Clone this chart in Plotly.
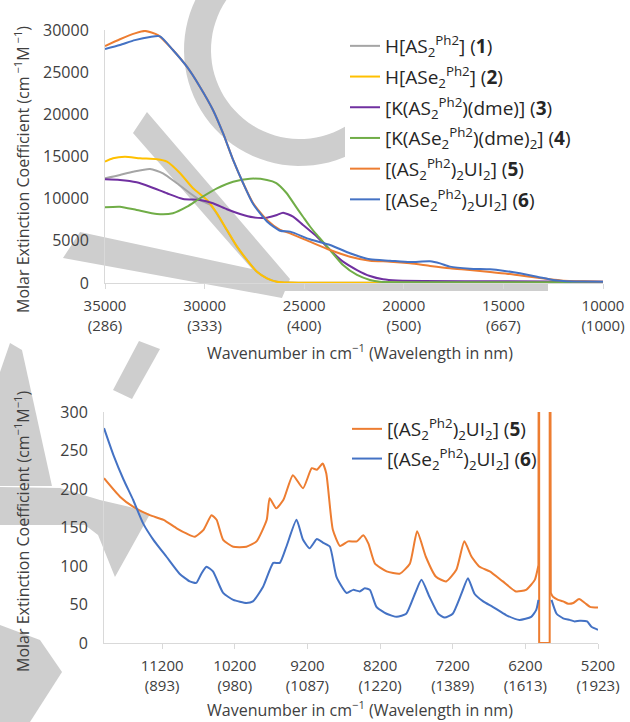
import numpy as np
import plotly.graph_objects as go

W, H = 630, 722

# ---------------- data: top panel (UV-vis-NIR) ----------------
top_ticks = [35000, 30000, 25000, 20000, 15000, 10000]
top_tick_wn = ["35000", "30000", "25000", "20000", "15000", "10000"]
top_tick_nm = ["(286)", "(333)", "(400)", "(500)", "(667)", "(1000)"]
top_yticks = [0, 5000, 10000, 15000, 20000, 25000, 30000]

c1_x = [35000, 34250, 33590, 32740, 32090, 31390, 30730, 30230, 29730, 29380, 28880, 28370, 27870, 27370, 26870, 26370, 25800, 20000, 15000, 10000]
c1_y = [12410, 12810, 13200, 13520, 13010, 11820, 10640, 9840, 9300, 8200, 6250, 4280, 2700, 1320, 550, 150, 50, 50, 50, 50]

c2_x = [35000, 34600, 34000, 33240, 32390, 31890, 31230, 30580, 29880, 29380, 28880, 28370, 27870, 27370, 26870, 26370, 25800, 20000, 15000, 10000]
c2_y = [14390, 14790, 14980, 14790, 14670, 14390, 13010, 11230, 9840, 8270, 6290, 4310, 2730, 1340, 560, 150, 50, 50, 50, 50]

c3_x = [35000, 34250, 33410, 32740, 31890, 31080, 30230, 29580, 28880, 28220, 27570, 26870, 26370, 26060, 25560, 25060, 24360, 23700, 23050, 22350, 21700, 21040, 20340, 15000, 10000]
c3_y = [12300, 12220, 11940, 11420, 10640, 9960, 9840, 9450, 8740, 8180, 7790, 7750, 8060, 8340, 7860, 6880, 5490, 3910, 2530, 1540, 830, 440, 300, 200, 150]

c4_x = [35000, 34250, 33410, 32390, 31590, 30880, 30230, 29380, 28570, 27720, 26870, 26400, 25900, 25400, 25060, 24710, 24360, 23700, 23050, 22350, 21700, 21200, 20000, 15000, 10000]
c4_y = [8980, 9050, 8660, 8180, 8270, 9050, 10050, 11230, 12010, 12370, 12220, 11850, 10700, 9000, 7860, 6700, 5690, 3910, 2130, 950, 360, 150, 100, 100, 100]

c5_x = [35000, 34250, 33500, 32990, 32340, 31590, 30880, 30230, 29580, 29080, 28570, 28070, 27570, 26870, 26210, 25710, 24710, 23700, 22700, 21700, 20690, 19690, 18680, 17680, 16680, 15670, 14670, 13660, 12660, 12000, 11000, 10000]
c5_y = [28100, 28900, 29600, 29890, 29400, 27630, 25620, 23250, 20520, 17790, 14590, 11860, 9490, 7470, 6290, 5890, 4900, 3910, 3120, 2650, 2530, 2330, 2020, 1740, 1540, 1300, 1070, 750, 440, 280, 200, 150]

c6_x = [35000, 34250, 33500, 32740, 32240, 31590, 30880, 30230, 29580, 29080, 28570, 28070, 27570, 26870, 26210, 25710, 24710, 23700, 22700, 21700, 20690, 19690, 18680, 18180, 17680, 16680, 15670, 15020, 14170, 13310, 12510, 12000, 11000, 10000]
c6_y = [27750, 28230, 28800, 29180, 29250, 27630, 25620, 23250, 20520, 17790, 14590, 11860, 9400, 7300, 6200, 6090, 5180, 4510, 3520, 2810, 2650, 2490, 2570, 2330, 1940, 1700, 1620, 1460, 1150, 750, 360, 250, 180, 150]

# ---------------- data: bottom panel (NIR) ----------------
bot_ticks = [11200, 10200, 9200, 8200, 7200, 6200, 5200]
bot_tick_wn = ["11200", "10200", "9200", "8200", "7200", "6200", "5200"]
bot_tick_nm = ["(893)", "(980)", "(1087)", "(1220)", "(1389)", "(1613)", "(1923)"]
bot_yticks = [0, 50, 100, 150, 200, 250, 300]

# compound 5: smooth part (gap at the detector-change artefact)
b5_x = [12000, 11780, 11600, 11370, 11180, 11000, 10860, 10750, 10630, 10520, 10450, 10360, 10220, 10040, 9900, 9760, 9720, 9630, 9530, 9400, 9260, 9140, 9070, 8990, 8940, 8850, 8750, 8640, 8520, 8430, 8360, 8270, 8110, 7930, 7790, 7690, 7570, 7430, 7290, 7150, 7040, 6940, 6830, 6690, 6510, 6330, 6190, 6070, 6020, 5930, 5850, 5820, 5750, 5680, 5610, 5540, 5460, 5380, 5310, 5200]
b5_y = [214, 190, 177, 166, 160, 149, 142, 138, 147, 166, 160, 134, 125, 125, 132, 160, 188, 175, 186, 218, 201, 227, 225, 233, 220, 147, 126, 132, 132, 140, 129, 103, 93, 90, 103, 145, 112, 86, 80, 95, 132, 112, 99, 93, 80, 67, 69, 82, 101, None, 65, 60, 56, 54, 51, 52, 57, 52, 47, 46]
# compound 5: artefact segment (off-scale up, off-scale down)
b5_art_x = [6020, 6010, 6010, 5865, 5865, 5850]
b5_art_y = [101, 1000, 0, 0, 1000, 65]

b6_x = [12000, 11870, 11730, 11600, 11460, 11320, 11140, 10960, 10820, 10730, 10660, 10590, 10500, 10360, 10220, 10040, 9950, 9810, 9670, 9580, 9490, 9350, 9260, 9170, 9070, 8980, 8890, 8800, 8660, 8570, 8480, 8410, 8340, 8250, 8110, 7970, 7840, 7720, 7630, 7520, 7400, 7310, 7200, 7080, 6990, 6900, 6780, 6650, 6460, 6280, 6120, 6050, 6020, 5930, 5840, 5770, 5680, 5590, 5520, 5450, 5350, 5290, 5200]
b6_y = [279, 244, 212, 186, 155, 134, 112, 90, 80, 78, 90, 99, 93, 65, 56, 52, 54, 73, 104, 104, 125, 160, 134, 123, 135, 130, 125, 86, 65, 69, 67, 71, 69, 47, 38, 34, 38, 64, 82, 60, 38, 33, 38, 64, 84, 64, 54, 47, 36, 30, 34, 43, 56, None, 56, 38, 32, 30, 28, 29, 28, 21, 17]

names = [
    "H[AS<sub>2</sub><sup>Ph2</sup>] (<b>1</b>)",
    "H[ASe<sub>2</sub><sup>Ph2</sup>] (<b>2</b>)",
    "[K(AS<sub>2</sub><sup>Ph2</sup>)(dme)] (<b>3</b>)",
    "[K(ASe<sub>2</sub><sup>Ph2</sup>)(dme)<sub>2</sub>] (<b>4</b>)",
    "[(AS<sub>2</sub><sup>Ph2</sup>)<sub>2</sub>UI<sub>2</sub>] (<b>5</b>)",
    "[(ASe<sub>2</sub><sup>Ph2</sup>)<sub>2</sub>UI<sub>2</sub>] (<b>6</b>)",
]
colors = ["#a5a5a5", "#ffc000", "#7030a0", "#70ad47", "#ed7d31", "#4472c4"]

FONT = "Open Sans"
TXT = "#404040"
AX = "#d9d9d9"

fig = go.Figure()
top_series = [(c1_x, c1_y), (c2_x, c2_y), (c3_x, c3_y), (c4_x, c4_y), (c5_x, c5_y), (c6_x, c6_y)]
for i, ((xs, ys), nm, col) in enumerate(zip(top_series, names, colors)):
    fig.add_trace(go.Scatter(x=xs, y=ys, mode="lines", name=nm, xaxis="x", yaxis="y",
                             line=dict(color=col, width=2, shape="spline", smoothing=0.6),
                             legend="legend", legendgroup=f"t{i}"))

fig.add_trace(go.Scatter(x=b5_x, y=b5_y, mode="lines", name=names[4], xaxis="x2", yaxis="y2",
                         line=dict(color=colors[4], width=2, shape="spline", smoothing=0.5),
                         legend="legend2", legendgroup="b5"))
fig.add_trace(go.Scatter(x=b5_art_x, y=b5_art_y, mode="lines", name=names[4], xaxis="x2", yaxis="y2",
                         line=dict(color=colors[4], width=2), showlegend=False,
                         legend="legend2", legendgroup="b5"))
fig.add_trace(go.Scatter(x=b6_x, y=b6_y, mode="lines", name=names[5], xaxis="x2", yaxis="y2",
                         line=dict(color=colors[5], width=2, shape="spline", smoothing=0.5),
                         legend="legend2", legendgroup="b6"))


def px2paper(px, py):
    return px / W, 1 - py / H


def path_from(points):
    s = ""
    for i, (a, b) in enumerate(points):
        x, y = px2paper(a, b)
        s += ("M" if i == 0 else "L") + f"{x:.4f},{y:.4f} "
    return s + "Z"


WM = "rgb(206,206,206)"
shapes = []
cx, cy, ro, ri = 300, 50, 116, 89
ang = np.radians(np.linspace(22, 325, 80))
outer = [(cx + ro * np.cos(a), cy + ro * np.sin(a)) for a in ang]
inner = [(cx + ri * np.cos(a), cy + ri * np.sin(a)) for a in ang[::-1]]
wm_polys = [
    outer + inner,
    [(63, 258), (80, 232), (252, 269), (133, 133), (147, 112), (290, 279), (282, 298)],
    [(282, 283), (548, 283), (548, 291), (282, 291)],
    [(139, 341), (160, 349), (132, 399), (113, 390)],
    [(10, 343), (22, 350), (52, 486), (0, 486), (0, 372)],
    [(0, 487), (60, 488), (100, 500), (130, 507), (150, 514), (115, 577), (98, 535), (85, 525), (0, 525)],
    [(0, 625), (40, 640), (62, 672), (30, 722), (0, 722)],
]
for poly in wm_polys:
    shapes.append(dict(type="path", path=path_from(poly), xref="paper", yref="paper",
                       fillcolor=WM, line=dict(width=0), layer="below"))

tickfont = dict(family=FONT, size=15, color=TXT)
common_x = dict(showgrid=False, zeroline=False, showline=True, linecolor=AX, linewidth=1,
                ticks="outside", ticklen=5, tickcolor=AX, tickfont=tickfont, tickmode="array",
                ticklabelstandoff=4, automargin=False)
common_y = dict(showgrid=False, zeroline=False, showline=True, linecolor=AX, linewidth=1,
                ticks="", tickfont=dict(family=FONT, size=16, color=TXT), tickmode="array",
                ticklabelstandoff=12, automargin=False)

top_dom_x = [105 / W, 603 / W]
top_dom_y = [1 - 283 / H, 1 - 30 / H]
bot_dom_x = [104 / W, 598 / W]
bot_dom_y = [1 - 643 / H, 1 - 412 / H]

legfont = dict(family=FONT, size=19, color="#262626")

fig.update_layout(
    width=W, height=H,
    margin=dict(l=0, r=0, t=0, b=0, autoexpand=False),
    paper_bgcolor="white", plot_bgcolor="rgba(0,0,0,0)",
    font=dict(family=FONT, color=TXT),
    showlegend=True,
    xaxis=dict(domain=top_dom_x, range=[35000, 10000], anchor="y", tickvals=top_ticks,
               ticktext=[f"{a}<br>{b}" for a, b in zip(top_tick_wn, top_tick_nm)], **common_x),
    yaxis=dict(domain=top_dom_y, range=[0, 30000], anchor="x", tickvals=top_yticks,
               ticktext=[str(v) for v in top_yticks], **common_y),
    xaxis2=dict(domain=bot_dom_x, range=[12000, 5200], anchor="y2", tickvals=bot_ticks,
                ticktext=[f"{a}<br>{b}" for a, b in zip(bot_tick_wn, bot_tick_nm)], **common_x),
    yaxis2=dict(domain=bot_dom_y, range=[0, 300], anchor="x2", tickvals=bot_yticks,
                ticktext=[str(v) for v in bot_yticks], **common_y),
    legend=dict(x=345 / W, y=1 - 27 / H, xanchor="left", yanchor="top", bgcolor="white",
                borderwidth=0, tracegroupgap=3, font=legfont),
    legend2=dict(x=347 / W, y=1 - 410 / H, xanchor="left", yanchor="top",
                 bgcolor="rgba(0,0,0,0)", borderwidth=0, tracegroupgap=2, font=legfont),
    shapes=shapes,
)

ann_font = dict(family=FONT, size=16, color=TXT)
annotations = [
    dict(text="Molar Extinction Coefficient (cm<sup> −1</sup>M<sup> −1</sup>)", x=22 / W, y=1 - 170 / H,
         xanchor="center", yanchor="middle",
         textangle=-90, showarrow=False, xref="paper", yref="paper", font=ann_font),
    dict(text="Wavenumber in cm<sup>−1</sup> (Wavelength in nm)", x=360 / W, y=1 - 352 / H,
         xanchor="center", yanchor="middle",
         showarrow=False, xref="paper", yref="paper", font=ann_font),
    dict(text="Molar Extinction Coefficient (cm<sup>−1</sup>M<sup>−1</sup>)", x=22 / W, y=1 - 532 / H,
         xanchor="center", yanchor="middle",
         textangle=-90, showarrow=False, xref="paper", yref="paper", font=ann_font),
    dict(text="Wavenumber in cm<sup>−1</sup> (Wavelength in nm)", x=360 / W, y=1 - 709 / H,
         xanchor="center", yanchor="middle",
         showarrow=False, xref="paper", yref="paper", font=ann_font),
]
fig.update_layout(annotations=annotations)

fig.write_html("out.html", config={"displayModeBar": False},
               post_script="document.body.style.margin='0';document.body.style.padding='0';")
